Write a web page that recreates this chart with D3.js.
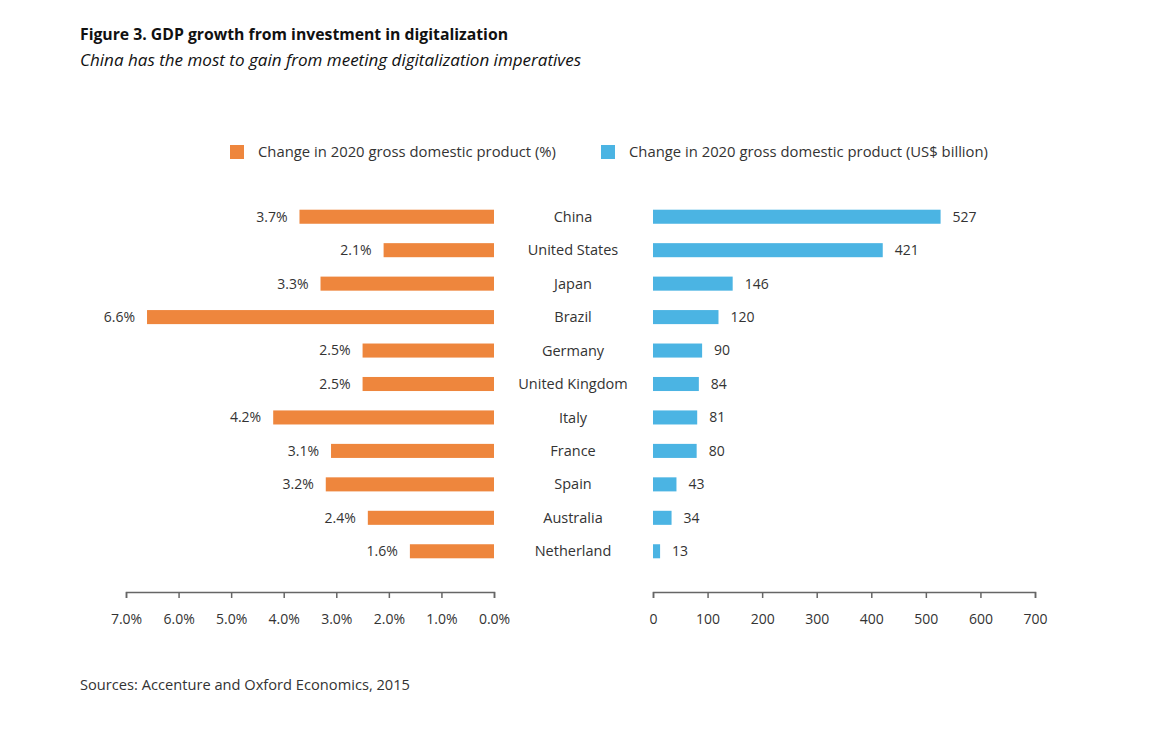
<!DOCTYPE html>
<html><head><meta charset="utf-8">
<script src="https://cdn.jsdelivr.net/npm/d3@7"></script>
<style>body{margin:0;background:#fff;} text{font-family:"Open Sans",Lato,sans-serif;}</style>
</head><body>
<svg id="chart" width="1166" height="732"></svg>
<script>
const countries = ["China","United States","Japan","Brazil","Germany","United Kingdom","Italy","France","Spain","Australia","Netherland"];
const gdpPct = [3.7,2.1,3.3,6.6,2.5,2.5,4.2,3.1,3.2,2.4,1.6];
const gdpUsd = [527,421,146,120,90,84,81,80,43,34,13];
const pctTicks = [0,1,2,3,4,5,6,7];
const usdTicks = [0,100,200,300,400,500,600,700];

const orange = "#EE863D", blue = "#4BB4E3", txt = "#333";
const svg = d3.select("#chart");

svg.append("text").attr("x",80).attr("y",40).attr("font-size",16).attr("font-weight","bold").attr("fill","#111")
  .attr("textLength",428).attr("lengthAdjust","spacingAndGlyphs")
  .text("Figure 3. GDP growth from investment in digitalization");
svg.append("text").attr("x",80).attr("y",66).attr("font-size",15.5).attr("font-style","italic").attr("fill","#111")
  .attr("textLength",501).attr("lengthAdjust","spacingAndGlyphs")
  .text("China has the most to gain from meeting digitalization imperatives");

// legend
const leg = [{c:orange,t:"Change in 2020 gross domestic product (%)",x:230,w:298},{c:blue,t:"Change in 2020 gross domestic product (US$ billion)",x:601,w:359}];
leg.forEach(l=>{
  svg.append("rect").attr("x",l.x).attr("y",145).attr("width",14).attr("height",14).attr("fill",l.c);
  svg.append("text").attr("x",l.x+28).attr("y",157).attr("font-size",14).attr("fill",txt)
    .attr("textLength",l.w).attr("lengthAdjust","spacingAndGlyphs").text(l.t);
});

const y = d3.scaleBand().domain(countries).range([200,568]).paddingInner(0.58).paddingOuter(0.29);
const xL = d3.scaleLinear().domain([0,7]).range([494,126]);
const xR = d3.scaleLinear().domain([0,700]).range([653,1035]);

svg.selectAll(".lb").data(countries).join("rect")
  .attr("x",(d,i)=>xL(gdpPct[i])).attr("y",d=>y(d)).attr("width",(d,i)=>xL(0)-xL(gdpPct[i])).attr("height",y.bandwidth()).attr("fill",orange);
svg.selectAll(".lt").data(countries).join("text")
  .attr("x",(d,i)=>xL(gdpPct[i])-12).attr("y",d=>y(d)+y.bandwidth()/2).attr("dy","0.35em").attr("text-anchor","end")
  .attr("font-size",14).attr("fill",txt).text((d,i)=>gdpPct[i].toFixed(1)+"%");

svg.selectAll(".rb").data(countries).join("rect")
  .attr("x",xR(0)).attr("y",d=>y(d)).attr("width",(d,i)=>xR(gdpUsd[i])-xR(0)).attr("height",y.bandwidth()).attr("fill",blue);
svg.selectAll(".rt").data(countries).join("text")
  .attr("x",(d,i)=>xR(gdpUsd[i])+12).attr("y",d=>y(d)+y.bandwidth()/2).attr("dy","0.35em")
  .attr("font-size",14).attr("fill",txt).text((d,i)=>gdpUsd[i]);

svg.selectAll(".cn").data(countries).join("text")
  .attr("x",573).attr("y",d=>y(d)+y.bandwidth()/2).attr("dy","0.35em").attr("text-anchor","middle")
  .attr("font-size",14.5).attr("fill",txt).text(d=>d);

function styleAxis(g){
  g.select(".domain").attr("stroke","#666").attr("stroke-width",1.5);
  g.selectAll(".tick line").attr("stroke","#666").attr("stroke-width",1.5);
  g.selectAll(".tick text").attr("font-size",14).attr("fill",txt).attr("font-family","'Open Sans', Lato, sans-serif");
}
svg.append("g").attr("transform","translate(0,592)")
  .call(d3.axisBottom(xL).tickValues(pctTicks).tickFormat(d=>d.toFixed(1)+"%").tickSize(6).tickSizeOuter(6).tickPadding(16))
  .call(styleAxis);
svg.append("g").attr("transform","translate(0,592)")
  .call(d3.axisBottom(xR).tickValues(usdTicks).tickSize(6).tickSizeOuter(6).tickPadding(16))
  .call(styleAxis);

svg.append("text").attr("x",80).attr("y",690).attr("font-size",14).attr("fill",txt)
  .attr("textLength",330).attr("lengthAdjust","spacingAndGlyphs")
  .text("Sources: Accenture and Oxford Economics, 2015");
</script>
</body></html>
